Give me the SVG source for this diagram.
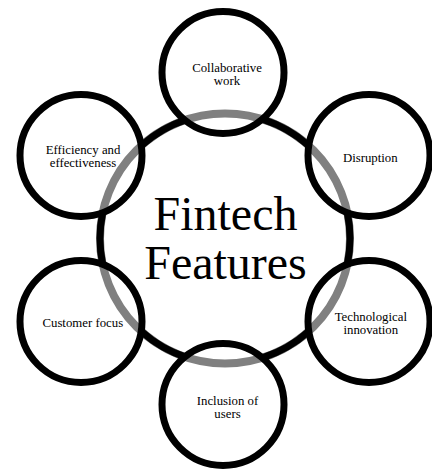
<svg xmlns="http://www.w3.org/2000/svg" width="432" height="473" viewBox="0 0 432 473">
  <style>
    .hub { fill: #ffffff; stroke: #808080; stroke-width: 8; }
    .node { fill: none; stroke: #000000; stroke-width: 7; }
    .link { fill: none; stroke: #000000; stroke-width: 7; }
    .lbl { font-family: "Liberation Serif", "Times New Roman", serif; font-size: 12.8px; fill: #000000; text-anchor: middle; }
    .title { font-family: "Liberation Serif", "Times New Roman", serif; font-size: 48px; fill: #000000; text-anchor: middle; }
  </style>
  <rect width="432" height="473" fill="#ffffff"/>

  <!-- central hub -->
  <g id="hub">
    <circle class="hub" cx="225" cy="238.5" r="125"/>
  </g>

  <!-- cycle arcs joining neighbouring nodes -->
  <g id="connectors">
    <path class="link" d="M263.63,119.61 A125,125 0 0 1 308.64,145.61"/>
    <path class="link" d="M347.27,212.51 A125,125 0 0 1 347.27,264.49"/>
    <path class="link" d="M308.64,331.39 A125,125 0 0 1 263.63,357.39"/>
    <path class="link" d="M186.37,357.39 A125,125 0 0 1 141.36,331.39"/>
    <path class="link" d="M102.73,264.49 A125,125 0 0 1 102.73,212.51"/>
    <path class="link" d="M141.36,145.61 A125,125 0 0 1 186.37,119.61"/>
  </g>

  <g id="hub-label">
    <text class="title" x="225.5" y="230">Fintech</text>
    <text class="title" x="225.5" y="279">Features</text>
  </g>

  <g id="node-collaborative">
    <circle class="node" cx="223" cy="72.5" r="61"/>
    <text class="lbl" x="227" y="72">Collaborative</text>
    <text class="lbl" x="227" y="85">work</text>
  </g>

  <g id="node-disruption">
    <circle class="node" cx="369" cy="155.5" r="61"/>
    <text class="lbl" x="370.3" y="161.5">Disruption</text>
  </g>

  <g id="node-technological">
    <circle class="node" cx="369" cy="321.5" r="61"/>
    <text class="lbl" x="370.8" y="320.5">Technological</text>
    <text class="lbl" x="370.8" y="333.5">innovation</text>
  </g>

  <g id="node-inclusion">
    <circle class="node" cx="223" cy="404.5" r="61"/>
    <text class="lbl" x="227.5" y="404.5">Inclusion of</text>
    <text class="lbl" x="227.5" y="417.5">users</text>
  </g>

  <g id="node-customer">
    <circle class="node" cx="81" cy="321.5" r="61"/>
    <text class="lbl" x="82.8" y="327.3">Customer focus</text>
  </g>

  <g id="node-efficiency">
    <circle class="node" cx="81" cy="155.5" r="61"/>
    <text class="lbl" x="83" y="154">Efficiency and</text>
    <text class="lbl" x="83" y="167">effectiveness</text>
  </g>
</svg>
